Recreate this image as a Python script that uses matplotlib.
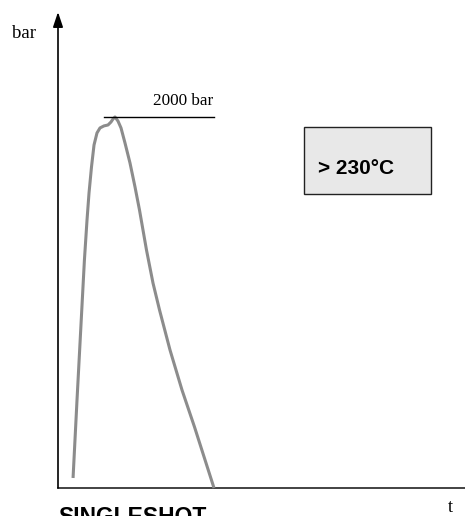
import matplotlib.pyplot as plt
from matplotlib.patches import Rectangle

# presiune in timp (singleshot), unitati arbitrare pe t
t = [3.7, 4.67, 5.58, 6.49, 7.13, 7.62, 8.23, 8.85, 9.58, 10.32, 11.3, 12.29, 13.02, 13.51, 14.0,
     14.74, 15.48, 16.46, 17.69, 18.92, 20.02, 21.74, 23.34, 24.94, 27.52, 30.47, 33.54, 38.33]
p = [54, 474, 852, 1229, 1445, 1590, 1731, 1849, 1914, 1941, 1952, 1957, 1973, 1989, 2000,
     1978, 1941, 1860, 1752, 1623, 1499, 1283, 1105, 960, 744, 528, 329, 0]

p_max = 2000
p_max_label = "2000 bar"
t_max_line = [11.3, 38.3]
temp_label = "> 230°C"

fig = plt.figure(figsize=(4.65, 5.16), dpi=100)
ax = fig.add_axes([58/465, 28/516, 407/465, 476/516])
ax.set_xlim(0, 100)
ax.set_ylim(0, 2566)
ax.axis('off')

# axe
ax.plot([0, 100], [0, 0], color='#222222', lw=1.2, clip_on=False)
ax.annotate('', xy=(0, 2566), xytext=(0, 0),
            arrowprops=dict(arrowstyle='-|>,head_width=0.3,head_length=0.9',
                            color='black', lw=1.2, shrinkA=0, shrinkB=0),
            annotation_clip=False)

# curba
ax.plot(t, p, color='#8c8c8c', lw=2.2, solid_capstyle='butt',
        solid_joinstyle='round', clip_on=False)

# linia 2000 bar
ax.plot(t_max_line, [p_max, p_max], color='black', lw=1.0)
ax.text(23.3, p_max + 45, p_max_label, family='Liberation Serif', fontsize=12.3,
        va='bottom', ha='left')

# caseta temperatura
ax.add_patch(Rectangle((60.4, 1585), 31.2, 361, facecolor='#e8e8e8',
                       edgecolor='#222222', lw=1.0))
ax.text(63.9, 1725, temp_label, family='Liberation Sans', fontweight='bold',
        fontsize=15, va='center', ha='left')

fig.text(12/465, 1 - 33/516, 'bar', family='Liberation Serif', fontsize=13.5,
         va='center', ha='left')
fig.text(450/465, 1 - 507/516, 't', family='Liberation Serif', fontsize=13,
         va='center', ha='center')
fig.text(58/465, 1 - 524/516, 'SINGLESHOT', family='Liberation Sans',
         fontweight='bold', fontsize=16.5, va='baseline', ha='left')

fig.savefig('out.png', dpi=100)
